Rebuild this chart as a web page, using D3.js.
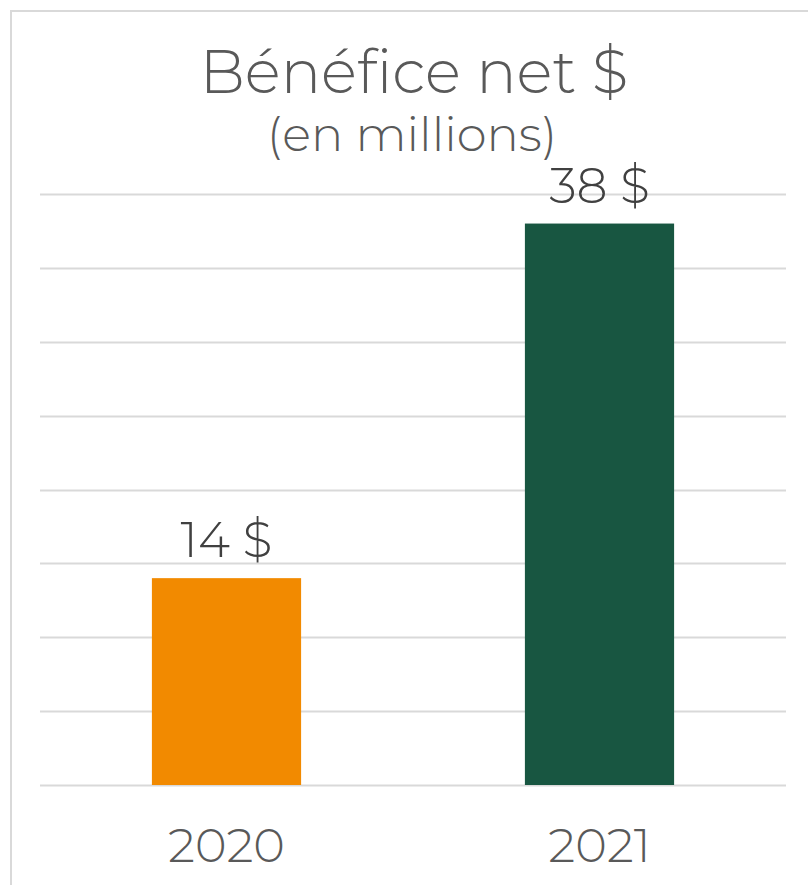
<!DOCTYPE html>
<html><head><meta charset="utf-8">
<script src="https://cdn.jsdelivr.net/npm/d3@7"></script>
<style>
html,body{margin:0;padding:0;background:#fff;}
svg{display:block;}
text{font-family:Montserrat,"Open Sans","Noto Sans",sans-serif;font-weight:300;fill:#595959;}
</style></head><body>
<svg id="c" width="808" height="885"></svg>
<script>
const categories = ["2020", "2021"];
const values = [14, 38];
const labels = ["14 $", "38 $"];
const colors = ["#F28A00", "#185641"];
const gridTicks = [0, 5, 10, 15, 20, 25, 30, 35, 40];
const titleText = "Bénéfice net $";
const subtitleText = "(en millions)";

const svg = d3.select("#c");
const W = 808, H = 885;
const m = {left: 40, right: 22, top: 194, bottom: 100};

// outer frame
svg.append("rect").attr("x", 11).attr("y", 11).attr("width", W + 20).attr("height", H + 20)
  .attr("fill", "none").attr("stroke", "#d9d9d9").attr("stroke-width", 2);

const x = d3.scaleBand().domain(categories).range([m.left, W - m.right]).paddingInner(0.6).paddingOuter(0.3);
const y = d3.scaleLinear().domain([0, 40]).range([H - m.bottom, m.top]);

svg.append("g").selectAll("line").data(gridTicks).join("line")
  .attr("x1", m.left).attr("x2", W - m.right)
  .attr("y1", d => Math.round(y(d)) + 0.5).attr("y2", d => Math.round(y(d)) + 0.5)
  .attr("stroke", "#d9d9d9").attr("stroke-width", 2);

svg.append("g").selectAll("rect").data(values).join("rect")
  .attr("x", (d, i) => x(categories[i]))
  .attr("width", x.bandwidth())
  .attr("y", d => y(d))
  .attr("height", d => y(0) - y(d))
  .attr("fill", (d, i) => colors[i]);

svg.append("g").selectAll("text").data(values).join("text")
  .attr("x", (d, i) => x(categories[i]) + x.bandwidth() / 2)
  .attr("y", d => y(d) - 21)
  .attr("text-anchor", "middle")
  .attr("font-size", 49)
  .style("fill", "#404040")
  .text((d, i) => labels[i]);

const xAxis = d3.axisBottom(x).tickSize(0).tickPadding(0);
const gx = svg.append("g").attr("transform", `translate(0,${y(0)})`).call(xAxis);
gx.select(".domain").remove();
gx.selectAll("text").attr("font-size", 48).attr("dy", 0).attr("y", 77)
  .style("font-family", "Montserrat,'Open Sans','Noto Sans',sans-serif").style("fill", "#595959");

svg.append("text").attr("x", 414).attr("y", 93).attr("text-anchor", "middle")
  .attr("font-size", 60).text(titleText);
svg.append("text").attr("x", 412).attr("y", 151).attr("text-anchor", "middle")
  .attr("font-size", 48).text(subtitleText);
</script>
</body></html>
